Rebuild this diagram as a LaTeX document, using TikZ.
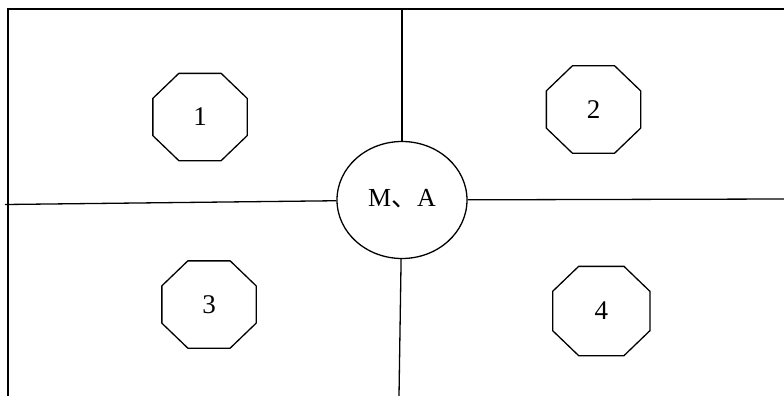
\documentclass[tikz,border=0pt]{standalone}
\usepackage{fontspec}
\setmainfont{Liberation Serif}
\newfontfamily\cjk{Noto Sans CJK SC}
\usetikzlibrary{calc,shapes.geometric}
\begin{document}
\begin{tikzpicture}[x=1pt,y=-1pt,line width=1.3pt,
  oct/.style={minimum width=93pt,minimum height=86pt,inner sep=0pt,font=\fontsize{27}{27}\selectfont},
  hub/.style={ellipse,draw,minimum width=130pt,minimum height=117pt,inner sep=0pt,font=\fontsize{26}{26}\selectfont}]
\useasboundingbox (0,0) rectangle (784,396);
\node[oct] (o1) at (200,117) {1};
\node[oct] (o2) at (593.5,109.5) {2};
\node[oct] (o3) at (209,304.5) {3};
\node[oct,minimum width=96pt,minimum height=88pt] (o4) at (601.3,311) {4};
\foreach \n in {o1,o2,o3,o4}{
  \draw ($(\n.north west)+(26,0)$) -- ($(\n.north east)+(-26,0)$) -- ($(\n.north east)+(0,25)$)
    -- ($(\n.south east)+(0,-25)$) -- ($(\n.south east)+(-26,0)$) -- ($(\n.south west)+(26,0)$)
    -- ($(\n.south west)+(0,-25)$) -- ($(\n.north west)+(0,25)$) -- cycle;
}
\node[hub] (ma) at (402,200) {\raisebox{5pt}{M{\cjk 、}A}};
\coordinate (tl) at (8,9);
\coordinate (tr) at (784,9);
\coordinate (bl) at (8,396);
\coordinate (hl) at (5,204.5);
\coordinate (hr) at (784,199);
\coordinate (vt) at (402,9);
\coordinate (vb) at (399,396);
\draw (tr) -- (tl) -- (bl);
\draw (hl) -- (ma);
\draw (ma) -- (hr);
\draw (vt) -- (ma);
\draw (ma) -- (vb);
\end{tikzpicture}
\end{document}
